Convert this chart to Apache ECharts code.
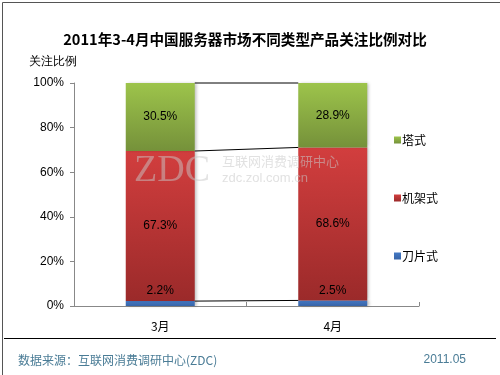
<!DOCTYPE html>
<html><head><meta charset="utf-8">
<script src="https://cdn.jsdelivr.net/npm/echarts@6/dist/echarts.min.js"></script>
<style>html,body{margin:0;padding:0;background:#fff}#c{width:500px;height:375px}</style>
</head><body><div id="c"></div>
<script>
const categories = ['3月', '4月'];
const bladeValues = [2.2, 2.5];
const rackValues = [67.3, 68.6];
const towerValues = [30.5, 28.9];
const yTicks = ['0%', '20%', '40%', '60%', '80%', '100%'];

// cumulative boundaries for series lines
const boundaries = [
  [0, bladeValues[0], bladeValues[1]],
  [0, bladeValues[0] + rackValues[0], bladeValues[1] + rackValues[1]],
  [0, 100, 100]
];

const chart = echarts.init(document.getElementById('c'), null, {renderer: 'canvas'});
const lbl = {show: true, color: '#000', fontSize: 12, fontFamily: 'Liberation Sans, Arial', formatter: p => p.value.toFixed(1) + '%'};
const shadow = {shadowColor: 'rgba(0,0,0,0.25)', shadowBlur: 3, shadowOffsetX: 2};
function grad(a, b) { return new echarts.graphic.LinearGradient(0, 0, 0, 1, [{offset: 0, color: a}, {offset: 1, color: b}]); }

chart.setOption({
  animation: false,
  backgroundColor: '#fff',
  title: {
    text: '2011年3-4月中国服务器市场不同类型产品关注比例对比',
    left: 240, top: 27, textAlign: 'center',
    textStyle: {fontSize: 14.6, fontWeight: 'bold', color: '#000', fontFamily: 'Noto Sans CJK SC, sans-serif'}
  },
  legend: {
    orient: 'vertical', left: 389, top: 129,
    itemWidth: 7, itemHeight: 7, itemGap: 46, icon: 'rect',
    data: ['塔式', '机架式', '刀片式'],
    textStyle: {fontSize: 12, color: '#000', padding: [0, 0, 0, -4], fontFamily: 'Noto Sans CJK SC, sans-serif'}
  },
  grid: {left: 74, right: 81, top: 83, bottom: 69},
  xAxis: {
    type: 'category', data: categories,
    axisLine: {lineStyle: {color: '#888', width: 1}},
    axisTick: {show: true, inside: true, length: 4, lineStyle: {color: '#888'}},
    axisLabel: {color: '#000', fontSize: 12, margin: 14, fontFamily: 'Noto Sans CJK SC, sans-serif'}
  },
  yAxis: {
    type: 'value', min: 0, max: 100, interval: 20,
    axisLine: {show: true, lineStyle: {color: '#888', width: 1}},
    axisTick: {show: true, length: 4, lineStyle: {color: '#888'}},
    splitLine: {show: false},
    axisLabel: {color: '#000', fontSize: 12, margin: 10, fontFamily: 'Liberation Sans, Arial',
      formatter: v => yTicks[Math.round(v / 20)]}
  },
  series: [
    {name: '刀片式', type: 'bar', stack: 's', barWidth: '40%', data: bladeValues,
      itemStyle: Object.assign({color: grad('#4479c4', '#3764a8')}, shadow),
      label: Object.assign({position: 'top', distance: 4}, lbl)},
    {name: '机架式', type: 'bar', stack: 's', data: rackValues,
      itemStyle: Object.assign({color: grad('#d23e3e', '#9b2a2a')}, shadow),
      label: Object.assign({position: 'inside'}, lbl)},
    {name: '塔式', type: 'bar', stack: 's', data: towerValues,
      itemStyle: Object.assign({color: grad('#9dc44b', '#75913a')}, shadow),
      label: Object.assign({position: 'inside'}, lbl)},
    {type: 'custom', data: boundaries, encode: {x: 0, y: 1}, silent: true, z: 5,
      renderItem: function (params, api) {
        const bw = api.size([1, 0])[0] * 0.4;
        const p1 = api.coord([0, api.value(1)]);
        const p2 = api.coord([1, api.value(2)]);
        return {type: 'line', shape: {x1: p1[0] + bw / 2, y1: p1[1], x2: p2[0] - bw / 2, y2: p2[1]},
          style: {stroke: '#000', lineWidth: 1}};
      }}
  ],
  graphic: [
    {type: 'rect', left: 0, top: 0, shape: {width: 499, height: 374}, style: {fill: 'none', stroke: '#555', lineWidth: 1}, z: 100},
    {type: 'text', left: 29, top: 56, style: {text: '关注比例', fontSize: 12, fill: '#000', font: '12px "Noto Sans CJK SC", sans-serif'}},
    {type: 'line', shape: {x1: 4, y1: 338.5, x2: 496, y2: 338.5}, style: {stroke: '#000', lineWidth: 1}},
    {type: 'text', left: 18, top: 354, style: {text: '数据来源：互联网消费调研中心(ZDC)', font: '12px "Noto Sans CJK SC", sans-serif', fill: '#4a7c96'}},
    {type: 'text', right: 34, top: 354, style: {text: '2011.05', font: '12px "Liberation Sans", Arial', fill: '#4a7c96'}},
    {type: 'text', left: 134, top: 152, z: 50, style: {text: 'ZDC', font: '38px "Liberation Serif", serif', fill: 'rgba(200,200,200,0.5)'}},
    {type: 'text', left: 222, top: 155, z: 50, style: {text: '互联网消费调研中心', font: '13px "Noto Sans CJK SC", sans-serif', fill: 'rgba(200,200,200,0.55)'}},
    {type: 'text', left: 222, top: 172, z: 50, style: {text: 'zdc.zol.com.cn', font: '13px "Liberation Sans", Arial', fill: 'rgba(200,200,200,0.55)'}}
  ]
});
</script></body></html>
